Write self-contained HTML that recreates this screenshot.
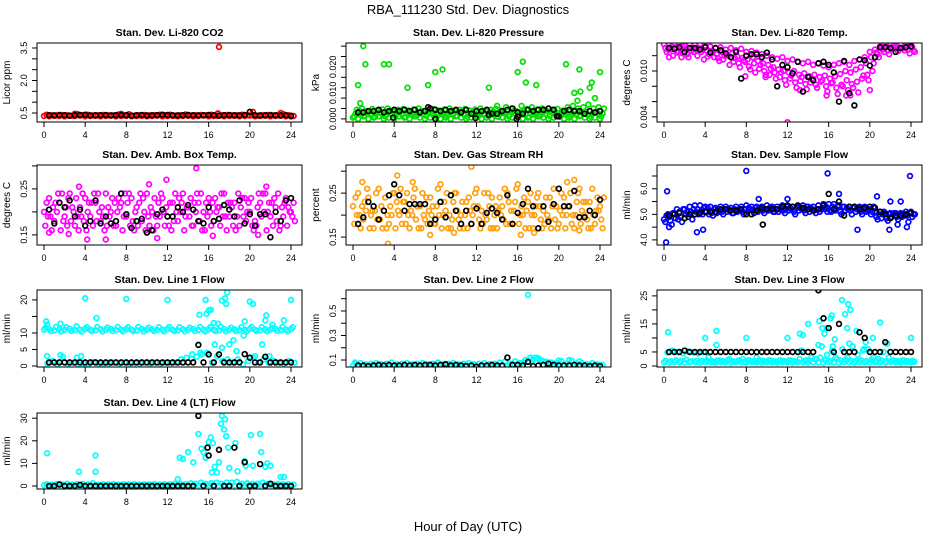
<!DOCTYPE html>
<html><head><meta charset="utf-8"><style>
html,body{margin:0;padding:0;background:#fff;}
svg{display:block;font-family:"Liberation Sans",sans-serif;}
</style></head><body>
<svg id="chart" width="936" height="540" viewBox="0 0 936 540" xmlns="http://www.w3.org/2000/svg">
<text x="468" y="14" text-anchor="middle" font-size="13">RBA_111230  Std. Dev. Diagnostics</text>
<text x="468" y="531" text-anchor="middle" font-size="13">Hour of Day (UTC)</text>
<g id="panels"></g>
</svg>
<script>
// ---------- data (hourly x: layers at 0,0.5,...,24 ; black at 0.5,...,24) ----------
const xTicks = [0,4,8,12,16,20,24];
const xTickLabels = ["0","4","8","12","16","20","24"];

const co2A = [0.42,0.40,0.39,0.41,0.40,0.38,0.45,0.40,0.42,0.39,0.40,0.41,0.39,0.40,0.43,0.40,0.44,0.38,0.40,0.41,0.39,0.40,0.42,0.40,0.42,0.38,0.40,0.43,0.39,0.40,0.41,0.40,0.42,0.38,0.40,0.41,0.39,0.40,0.42,0.40,0.41,0.38,0.40,0.41,0.39,0.40,0.45,0.40,0.36];
const co2B = [0.36,0.35,0.37,0.36,0.35,0.37,0.36,0.38,0.35,0.36,0.37,0.35,0.36,0.38,0.35,0.36,0.37,0.35,0.36,0.37,0.35,0.36,0.38,0.35,0.36,0.37,0.35,0.36,0.37,0.35,0.36,0.38,0.35,0.36,0.37,0.35,0.36,0.37,0.35,0.36,0.38,0.35,0.36,0.37,0.35,0.36,0.37,0.35,0.34];
const co2Black = [0.40,0.39,0.41,0.40,0.38,0.40,0.41,0.42,0.39,0.40,0.40,0.41,0.39,0.40,0.41,0.40,0.38,0.40,0.41,0.39,0.40,0.40,0.42,0.41,0.40,0.39,0.40,0.41,0.40,0.39,0.40,0.41,0.40,0.38,0.40,0.41,0.40,0.39,0.41,0.55,0.40,0.39,0.40,0.41,0.40,0.39,0.40,0.37];
const co2OutX = [17,20.3,23,3,7.5,16.9];
const co2OutY = [3.55,0.55,0.5,0.47,0.46,0.48];

const presA = [0.0005,0,0.001,0,0.0005,0.001,0,0.0005,0,0.001,0.0005,0,0.001,0.0005,0,0.0005,0.001,0,0.0005,0,0.001,0.0005,0,0.0005,0.001,0,0.0005,0,0.001,0.0005,0,0.0005,0.001,0,0.0005,0,0.001,0.0005,0,0.0005,0.001,0,0.0005,0,0.001,0.0005,0,0.0005,0];
const presB = [0.002,0.0015,0.0025,0.002,0.0018,0.0022,0.0015,0.002,0.0025,0.0018,0.002,0.0022,0.0015,0.002,0.0025,0.0018,0.002,0.0022,0.0015,0.002,0.0025,0.0018,0.002,0.0022,0.0015,0.002,0.0025,0.0018,0.002,0.0022,0.0015,0.002,0.0025,0.0018,0.002,0.0022,0.0015,0.002,0.0025,0.0018,0.002,0.0022,0.0015,0.002,0.0025,0.0018,0.002,0.0022,0.002];
const presC = [0.0035,0.004,0.003,0.0038,0.0032,0.0036,0.004,0.003,0.0035,0.0038,0.0032,0.0036,0.004,0.003,0.0035,0.0038,0.0032,0.0036,0.004,0.003,0.0035,0.0038,0.0032,0.0036,0.004,0.003,0.0035,0.0038,0.0032,0.0045,0.004,0.003,0.005,0.0038,0.0045,0.0036,0.004,0.003,0.0035,0.0038,0.0032,0.0045,0.005,0.004,0.0045,0.0055,0.004,0.0045,0.004];
const presD = [0.001,0.003,0.0012,0.0028,0.0008,0.0025,0.001,0.003,0.0012,0.0028,0.0008,0.0025,0.001,0.003,0.0012,0.0028,0.0008,0.0025,0.001,0.003,0.0012,0.0028,0.0008,0.0025,0.001,0.003,0.0012,0.0028,0.0008,0.0025,0.001,0.003,0.0012,0.0028,0.0008,0.0025,0.001,0.003,0.0012,0.0028,0.0008,0.0025,0.001,0.003,0.0012,0.0028,0.0008,0.0025,0.001];
const presBlack = [0.0025,0.0025,0.003,0.003,0.0035,0.0025,0.003,0.0035,0.003,0.0035,0.003,0.0035,0.0025,0.003,0.004,0.0035,0.003,0.0035,0.003,0.0035,0.0025,0.0035,0.002,0.003,0.003,0.0035,0.002,0.002,0.003,0.0035,0.004,0.0025,0.002,0.0035,0.003,0.0035,0.0035,0.004,0.0035,0.001,0.003,0.0035,0.003,0.003,0.002,0.003,0.0025,0.003];
const presOutX = [1.0,1.2,3.0,3.5,0.5,5.3,7.3,8.0,8.7,13.2,16.0,16.5,16.8,17.8,20.7,21.5,22.0,22.1,23.0,23.2,24.0,23.5,21.8,0.7,14.0];
const presOutY = [0.028,0.021,0.021,0.021,0.013,0.012,0.013,0.018,0.019,0.012,0.018,0.022,0.014,0.013,0.021,0.010,0.019,0.0105,0.012,0.014,0.018,0.008,0.007,0.006,0.005];
const presBOutX = [3.9,7.3,8.0,11.9,15.9,16.0,13.2,19.8];
const presBOutY = [0.0005,0.0045,0,0.0003,0,0.0008,0.0015,0.001];

const tempA = [0.0135,0.0134,0.0136,0.0135,0.0133,0.0136,0.0134,0.0135,0.0133,0.0132,0.0130,0.0131,0.0128,0.0130,0.0127,0.0129,0.0125,0.0126,0.0124,0.0122,0.0120,0.0118,0.0116,0.0118,0.0113,0.0115,0.0112,0.0110,0.0112,0.0108,0.0110,0.0107,0.0105,0.0108,0.0110,0.0112,0.0108,0.0113,0.0115,0.0118,0.0125,0.0128,0.0132,0.0135,0.0134,0.0136,0.0135,0.0134,0.0135];
const tempB = [0.0130,0.0128,0.0131,0.0127,0.0129,0.0126,0.0128,0.0125,0.0127,0.0124,0.0122,0.0125,0.0121,0.0123,0.0119,0.0117,0.0115,0.0118,0.0113,0.0110,0.0108,0.0105,0.0102,0.0100,0.0098,0.0100,0.0095,0.0097,0.0093,0.0095,0.0092,0.0094,0.0090,0.0093,0.0096,0.0100,0.0098,0.0102,0.0105,0.0110,0.0118,0.0124,0.0130,0.0132,0.0131,0.0133,0.0130,0.0132,0.0131];
const tempC = [0.0125,0.0132,0.0124,0.0133,0.0122,0.0130,0.0120,0.0128,0.0119,0.0126,0.0117,0.0115,0.0120,0.0112,0.0110,0.0114,0.0106,0.0110,0.0103,0.0100,0.0095,0.0098,0.0092,0.0088,0.0090,0.0085,0.0087,0.0083,0.0085,0.0082,0.0086,0.0080,0.0084,0.0078,0.0082,0.0088,0.0083,0.0086,0.0090,0.0095,0.0100,0.0122,0.0128,0.0127,0.0129,0.0126,0.0130,0.0128,0.0127];
const tempD = [0.0128,0.0120,0.0126,0.0123,0.0118,0.0125,0.0130,0.0115,0.0122,0.0118,0.0113,0.0120,0.0108,0.0117,0.0105,0.0112,0.0102,0.0098,0.0108,0.0092,0.0103,0.0090,0.0098,0.0082,0.0094,0.0078,0.0092,0.0076,0.0090,0.0078,0.0088,0.0073,0.0085,0.0070,0.0080,0.0075,0.0078,0.0072,0.0094,0.0088,0.0110,0.0118,0.0125,0.0122,0.0133,0.0130,0.0127,0.0123,0.0125];
const tempBlack = [0.0130,0.0129,0.0131,0.0125,0.0130,0.0130,0.0128,0.0131,0.0124,0.0130,0.0127,0.0123,0.0118,0.0125,0.0090,0.0120,0.0122,0.0122,0.0118,0.0124,0.0115,0.0080,0.0108,0.0105,0.0097,0.0112,0.0073,0.0092,0.0088,0.0110,0.0112,0.0108,0.0098,0.0060,0.0113,0.0071,0.0055,0.0115,0.0114,0.0107,0.0118,0.0131,0.0131,0.0130,0.0125,0.0130,0.0131,0.0132];
const tempOutX = [12,15.8,17.7,0.5,1.7,7.9,13.2,18.1,20,9.9];
const tempOutY = [0.0033,0.0068,0.0068,0.0118,0.0118,0.0093,0.0075,0.0068,0.0075,0.0095];

const ambA = [0.20,0.23,0.18,0.22,0.19,0.24,0.17,0.21,0.23,0.19,0.22,0.18,0.24,0.20,0.17,0.22,0.19,0.23,0.21,0.18,0.24,0.20,0.17,0.23,0.19,0.22,0.18,0.24,0.21,0.17,0.22,0.20,0.23,0.18,0.21,0.24,0.19,0.22,0.17,0.23,0.20,0.18,0.22,0.24,0.19,0.21,0.17,0.23,0.20];
const ambB = [0.17,0.19,0.22,0.16,0.21,0.18,0.23,0.19,0.16,0.22,0.18,0.21,0.17,0.23,0.20,0.16,0.22,0.18,0.17,0.23,0.19,0.16,0.22,0.20,0.17,0.18,0.23,0.16,0.19,0.22,0.18,0.16,0.20,0.23,0.17,0.19,0.22,0.16,0.21,0.18,0.23,0.17,0.19,0.16,0.22,0.18,0.21,0.17,0.19];
const ambC = [0.22,0.16,0.20,0.24,0.17,0.21,0.19,0.24,0.20,0.17,0.24,0.19,0.21,0.17,0.23,0.19,0.24,0.16,0.22,0.20,0.17,0.23,0.19,0.17,0.22,0.24,0.20,0.19,0.23,0.20,0.24,0.22,0.17,0.20,0.24,0.16,0.21,0.19,0.23,0.20,0.17,0.21,0.24,0.20,0.17,0.24,0.19,0.21,0.22];
const ambD = [0.19,0.21,0.24,0.18,0.23,0.20,0.16,0.18,0.22,0.24,0.20,0.16,0.19,0.22,0.21,0.24,0.17,0.20,0.24,0.16,0.21,0.19,0.24,0.21,0.16,0.20,0.22,0.21,0.17,0.24,0.16,0.19,0.22,0.21,0.19,0.22,0.17,0.24,0.19,0.22,0.16,0.24,0.20,0.22,0.23,0.16,0.22,0.20,0.18];
const ambBlack = [0.205,0.175,0.22,0.21,0.225,0.19,0.205,0.17,0.18,0.225,0.175,0.19,0.175,0.18,0.24,0.195,0.165,0.18,0.185,0.155,0.16,0.195,0.205,0.19,0.19,0.21,0.20,0.215,0.205,0.18,0.175,0.21,0.18,0.185,0.215,0.205,0.19,0.225,0.175,0.195,0.17,0.195,0.195,0.145,0.20,0.18,0.225,0.23];
const ambOutX = [14.8,4.2,6,11.9,10.2,0.5,2.4,3.4,21.6,11,20.8,16.4];
const ambOutY = [0.295,0.14,0.14,0.27,0.26,0.155,0.152,0.255,0.255,0.143,0.15,0.148];

const rhA = [0.22,0.25,0.19,0.24,0.17,0.26,0.21,0.18,0.25,0.20,0.23,0.17,0.26,0.22,0.19,0.24,0.18,0.27,0.21,0.17,0.25,0.20,0.23,0.18,0.26,0.21,0.19,0.24,0.17,0.22,0.25,0.18,0.27,0.20,0.23,0.17,0.25,0.21,0.19,0.26,0.18,0.24,0.22,0.17,0.26,0.20,0.23,0.18,0.22];
const rhB = [0.18,0.20,0.23,0.17,0.21,0.19,0.24,0.22,0.17,0.26,0.18,0.21,0.19,0.17,0.24,0.20,0.22,0.17,0.25,0.19,0.21,0.23,0.17,0.20,0.22,0.18,0.25,0.17,0.21,0.19,0.23,0.21,0.18,0.24,0.17,0.20,0.22,0.18,0.24,0.19,0.21,0.17,0.25,0.20,0.18,0.23,0.17,0.21,0.19];
const rhC = [0.24,0.17,0.21,0.20,0.25,0.22,0.17,0.20,0.23,0.18,0.25,0.20,0.22,0.25,0.18,0.22,0.26,0.20,0.17,0.23,0.19,0.17,0.24,0.22,0.19,0.25,0.22,0.20,0.24,0.26,0.18,0.23,0.20,0.17,0.25,0.22,0.19,0.24,0.17,0.22,0.25,0.20,0.18,0.23,0.21,0.19,0.26,0.24,0.17];
const rhD = [0.20,0.22,0.26,0.21,0.19,0.17,0.20,0.25,0.21,0.23,0.20,0.24,0.17,0.20,0.21,0.18,0.20,0.23,0.20,0.25,0.17,0.20,0.21,0.25,0.17,0.20,0.17,0.22,0.20,0.18,0.21,0.26,0.22,0.21,0.20,0.24,0.17,0.20,0.22,0.17,0.20,0.22,0.20,0.25,0.23,0.17,0.20,0.21,0.24];
const rhBlack = [0.18,0.195,0.23,0.22,0.19,0.21,0.245,0.27,0.245,0.21,0.225,0.225,0.225,0.225,0.18,0.19,0.23,0.195,0.245,0.21,0.18,0.21,0.18,0.215,0.18,0.205,0.215,0.205,0.19,0.245,0.18,0.205,0.225,0.26,0.22,0.17,0.22,0.185,0.225,0.26,0.22,0.22,0.255,0.195,0.195,0.21,0.20,0.235];
const rhOutX = [4.3,11.5,3.4,7.5,9.8,16.3,17.6,22,0.9,5.8,20.8,21.5];
const rhOutY = [0.29,0.31,0.135,0.155,0.16,0.155,0.16,0.165,0.275,0.275,0.275,0.28];

const flowA = [4.8,4.9,5.0,5.1,5.2,5.3,5.35,5.35,5.3,5.3,5.25,5.3,5.3,5.25,5.3,5.3,5.35,5.3,5.3,5.3,5.35,5.3,5.3,5.35,5.3,5.3,5.3,5.35,5.3,5.3,5.35,5.4,5.4,5.4,5.35,5.3,5.3,5.3,5.3,5.3,5.2,5.1,5.1,5.05,5.05,5.05,5.05,5.1,5.1];
const flowB = [4.7,4.75,4.85,4.9,5.0,5.1,5.1,5.1,5.1,5.05,5.05,5.1,5.1,5.05,5.1,5.1,5.1,5.15,5.1,5.15,5.15,5.1,5.1,5.15,5.15,5.1,5.15,5.15,5.1,5.15,5.1,5.2,5.15,5.15,5.1,5.15,5.15,5.1,5.1,5.1,5.0,4.9,4.85,4.85,4.9,4.9,4.9,4.95,4.9];
const flowC = [4.95,4.6,5.2,4.7,5.1,4.8,5.2,5.0,5.25,4.95,5.2,5.0,5.2,5.05,5.15,5.0,5.25,5.05,5.2,5.05,5.25,5.1,5.2,5.05,5.25,5.0,5.25,5.05,5.25,5.05,5.2,5.3,5.1,5.2,5.0,5.25,5.0,5.2,5.0,5.15,5.1,4.8,5.0,4.75,5.0,4.8,5.0,4.7,5.0];
const flowD = [5.0,5.05,4.8,5.2,4.9,5.2,5.0,5.25,5.0,5.2,5.1,5.2,5.15,5.2,5.2,5.2,5.2,5.25,5.2,5.2,5.25,5.2,5.25,5.2,5.2,5.25,5.2,5.3,5.2,5.2,5.25,5.1,5.3,5.3,5.3,5.2,5.25,5.25,5.2,5.2,5.3,5.0,5.1,5.0,5.05,5.0,4.95,5.05,5.0];
const flowBlack = [4.95,5.0,5.05,4.85,5.0,5.0,5.05,5.1,5.1,5.1,5.2,5.2,5.15,5.15,5.2,5.0,5.0,5.15,5.25,5.2,5.2,5.2,5.3,5.35,5.3,5.35,5.25,5.2,5.15,5.2,5.35,5.8,5.2,5.5,4.95,5.3,5.3,5.2,5.25,5.3,5.25,5.1,5.0,4.85,4.95,4.95,5.0,5.05];
const flowOutX = [0.2,0.3,8,15.9,23.9,3.2,3.8,0.5,17,12,9.2,20.7,22,23,18.8,21.9,23.6,22.7];
const flowOutY = [3.9,5.9,6.7,6.6,6.5,4.3,4.4,4.5,5.8,5.6,5.6,5.7,5.5,5.5,4.4,4.4,4.5,4.6];
const flowBOutX = [9.6];
const flowBOutY = [4.6];

const l1A = [11,11.2,10.8,11.1,11,11.3,10.9,11,11.2,11,10.8,11.1,11,11.2,10.9,11,11.1,11,10.8,11.2,11,11.1,10.9,11,11.2,11,10.8,11.1,11,11.2,10.9,11,11.1,11,10.8,11.2,11,11.1,10.9,11,11.2,11,10.8,11.1,11,11.2,10.9,11,11.1];
const l1B = [11.6,10.6,11.8,10.5,11.7,10.6,12,10.4,11.7,10.6,11.8,10.5,11.6,10.6,11.8,10.5,11.7,10.6,11.8,10.5,11.6,10.6,11.7,10.5,11.8,10.6,11.7,10.5,11.6,10.6,11.8,10.5,11.7,10.6,11.8,10.5,11.6,10.6,11.7,10.5,11.8,10.6,11.7,10.5,11.6,10.6,11.8,10.5,11.7];
const l1C = [0.8,1.5,0.5,2.8,0.6,1.0,0.5,0.8,0.6,1.2,0.7,0.8,0.8,1.0,0.8,1.0,0.8,0.9,0.8,1.0,0.8,1.0,0.8,1.0,0.9,1.0,2.0,2.5,2.2,2.8,3.5,4.0,1.0,3.0,1.5,2.0,1.0,2.0,0.5,1.5,2.5,1.0,2.0,1.0,1.5,1.0,0.8,1.5,1.0];
const l1Black = [1.1,1.1,1.1,1.1,1.1,1.1,1.1,1.1,1.1,1.1,1.1,1.1,1.1,1.1,1.1,1.1,1.1,1.1,1.1,1.1,1.1,1.1,1.1,1.1,1.1,1.1,1.1,1.1,1.1,6.4,1.1,3.5,1.1,3.5,1.1,1.1,1.1,1.1,3.6,2.5,1.1,1.1,2.8,1.1,1.1,1.1,1.1,1.1];
const l1OutX = [4,8,12,0.2,0.3,1.6,5.1,15.1,15.7,15.8,16,16.2,16.5,16.9,17.3,17.6,17.8,17.7,18.4,19.5,20,20.3,21.2,21.6,22.2,23.3,24,18,21.5,19.4,16.6,0.3,1.6,3.2,3.6,14.4,15.2,17.3,18.7,20.5,21.9];
const l1OutY = [20.5,20.3,20,13.5,12.5,12.8,14.5,15.5,20,15.8,16.8,17,13,12.8,19.8,20.5,22.3,18.8,7.8,13.5,19.5,18.8,6.5,15.3,12.5,13.8,20,6.5,13.8,9.2,6.5,3,3.3,2.5,3,3.5,4,5.5,4.5,3,3];

const l2A = [0.055,0.06,0.05,0.055,0.06,0.05,0.055,0.06,0.05,0.055,0.06,0.05,0.055,0.06,0.05,0.055,0.06,0.05,0.055,0.06,0.05,0.055,0.06,0.05,0.055,0.06,0.05,0.055,0.06,0.05,0.06,0.065,0.07,0.08,0.09,0.1,0.11,0.09,0.08,0.07,0.065,0.06,0.055,0.06,0.05,0.055,0.06,0.05,0.055];
const l2B = [0.07,0.075,0.065,0.07,0.075,0.065,0.07,0.08,0.065,0.07,0.075,0.065,0.07,0.075,0.065,0.07,0.08,0.065,0.07,0.075,0.065,0.07,0.075,0.065,0.07,0.075,0.065,0.07,0.08,0.085,0.07,0.09,0.075,0.1,0.12,0.12,0.1,0.085,0.08,0.075,0.09,0.07,0.095,0.07,0.075,0.065,0.075,0.065,0.06];
const l2Black = [0.055,0.055,0.05,0.055,0.06,0.055,0.06,0.055,0.055,0.06,0.055,0.06,0.055,0.06,0.06,0.055,0.06,0.065,0.055,0.06,0.055,0.05,0.055,0.045,0.055,0.055,0.06,0.055,0.055,0.12,0.06,0.06,0.055,0.085,0.05,0.055,0.06,0.07,0.06,0.055,0.055,0.055,0.06,0.055,0.055,0.05,0.055,0.05];
const l2OutX = [17,17.5,18,21,20,22,0.2];
const l2OutY = [0.63,0.11,0.115,0.1,0.095,0.09,0.08];

const l3A = [1.3,1.2,1.4,1.3,1.2,1.4,1.3,1.2,1.4,1.3,1.2,1.4,1.3,1.2,1.4,1.3,1.2,1.4,1.3,1.2,1.4,1.3,1.2,1.4,1.3,1.2,1.4,1.3,1.2,1.4,1.3,1.2,1.4,1.3,1.2,1.4,1.3,1.2,1.4,1.3,1.2,1.4,1.3,1.2,1.4,1.3,1.2,1.4,1.3];
const l3B = [1.9,1.7,2.0,1.8,2.2,1.7,1.9,1.8,2.0,1.7,1.9,1.8,2.0,1.7,1.9,2.5,2.0,1.7,1.9,1.8,2.0,1.7,1.9,1.8,2.0,1.7,2.5,1.8,2.0,2.5,3.0,2.0,1.9,3.0,2.0,2.2,1.9,1.8,2.0,1.7,2.2,1.8,2.0,1.7,1.9,1.8,2.0,1.7,1.9];
const l3C = [4.8,5.5,5.0,4.5,5.2,4.8,4.5,5.0,3.0,1.5,2.0,1.5,2.5,1.5,2.0,1.5,2.0,1.5,2.0,1.5,2.0,1.5,2.0,1.5,2.0,1.5,5.5,2.0,3.0,2.5,7.0,4.0,5.5,2.5,6.0,3.0,7.0,4.0,5.5,6.0,3.0,2.5,5.0,3.0,2.0,1.5,2.0,1.5,1.5];
const l3Black = [5,5,5,5.5,5,5,5,5,5,5,5,5,5,5,5,5,5,5,5,5,5,5,5,5,5,5,5,5,5,27,17,13.5,5,15,5,5,5,12,10,5,5,5,8.5,5,5,5,5,5];
const l3OutX = [0.4,4,5.1,5.1,8,12,13.2,13.5,14,15.1,15.4,15.6,15.8,16.2,16.3,17.3,17.6,17.9,18.1,18.7,19.6,20.3,21,21.7,24,15,16.6,17.8,9,16.4,18,19.4];
const l3OutY = [12,10,12.5,7.5,10,10,11.5,11,15,16,13.5,11.5,13.5,17,18,23.5,18.5,22,20,12.5,8.5,10,15.5,8,10,7.5,9.5,13.5,3,7,8,6];

const l4A = [0.3,0.2,0.4,0.3,0.2,0.4,0.3,0.2,0.4,0.3,0.2,0.4,0.3,0.2,0.4,0.3,0.2,0.4,0.3,0.2,0.4,0.3,0.2,0.4,0.3,0.2,0.4,0.3,0.2,0.4,0.3,0.2,0.4,0.3,0.2,0.4,0.3,0.2,0.4,0.3,0.2,0.4,0.3,0.2,0.4,0.3,0.2,0.4,0.3];
const l4B = [0.8,0.6,0.9,0.7,1.0,0.6,0.8,0.9,0.7,1.2,0.6,0.8,0.7,0.9,0.6,0.8,0.7,0.9,0.6,0.8,0.7,0.9,0.6,0.8,0.7,1.0,0.9,0.8,1.2,1.0,1.5,0.9,1.2,1.5,1.0,1.5,1.5,1.8,1.0,1.2,0.9,1.0,1.5,1.0,0.8,0.9,0.7,0.8,0.6];
const l4Black = [0,0,0.7,0,0,0,0.5,0,0,0,0,0,0,0,0,0,0,0,0,0,0,0,0,0,0,0,0,0,0,31,0,13.5,0,16,0,0,17,0,10.5,0,0,9.7,0,1,0,0,0,0];
const l4OutX = [0.3,3.4,5,5,13,13.2,13.5,14,14.5,15,15.3,15.5,15.7,16,16.2,16.4,16.6,16.8,17,17.2,17.3,17.5,17.6,17.7,17.9,18,18.6,18.8,19.5,19.6,20.1,20.3,21,21.1,21.5,21.7,22,23,23.3,16.3];
const l4OutY = [14.5,6.3,13.5,6.3,3,12.5,12,15,10.5,23,16.5,15,12.5,19.5,21.5,19,8.5,6,10.5,27.5,31,25,29.5,22,17,8,19,6.5,11,9,22.5,9,23,15,8.5,10,9,4,4,6];
const l4BOutX = [15.9];
const l4BOutY = [17];

// ---------- panel definitions ----------
const colLeft = [37,346,657];
const rowTop = [43,165,290,413];
const rowH = [79,80,77,76];
const boxW = 265;

const panels = [
 {key:"co2",col:0,row:0,title:"Stan. Dev. Li-820 CO2",ylab:"Licor ppm",ymin:0.085,ymax:3.73,ticks:[0.5,1,1.5,2,2.5,3,3.5],labels:[[0.5,"0.5"],[2,"2.0"],[3.5,"3.5"]],color:"#ff0000",layers:[co2B,co2A],black:co2Black,ox:co2OutX,oy:co2OutY,bx:[],by:[]},
 {key:"pressure",col:1,row:0,title:"Stan. Dev. Li-820 Pressure",ylab:"kPa",ymin:-0.0012,ymax:0.0292,ticks:[0,0.004,0.008,0.012,0.016,0.020,0.024,0.028],labels:[[0,"0.000"],[0.010,"0.010"],[0.020,"0.020"]],color:"#00e000",layers:[presA,presD,presB,presC],black:presBlack,ox:presOutX,oy:presOutY,bx:presBOutX,by:presBOutY},
 {key:"temp",col:2,row:0,title:"Stan. Dev. Li-820 Temp.",ylab:"degrees C",ymin:0.00333,ymax:0.01366,ticks:[0.004,0.006,0.008,0.010,0.012],labels:[[0.004,"0.004"],[0.010,"0.010"]],color:"#ff00ff",layers:[tempA,tempB,tempC,tempD],black:tempBlack,ox:tempOutX,oy:tempOutY,bx:[],by:[]},
 {key:"ambbox",col:0,row:1,title:"Stan. Dev. Amb. Box Temp.",ylab:"degrees C",ymin:0.128,ymax:0.302,ticks:[0.15,0.2,0.25,0.3],labels:[[0.15,"0.15"],[0.25,"0.25"]],color:"#ff00ff",layers:[ambA,ambB,ambC,ambD],black:ambBlack,ox:ambOutX,oy:ambOutY,bx:[],by:[]},
 {key:"rh",col:1,row:1,title:"Stan. Dev. Gas Stream RH",ylab:"percent",ymin:0.132,ymax:0.314,ticks:[0.15,0.2,0.25,0.3],labels:[[0.15,"0.15"],[0.25,"0.25"]],color:"#ffa010",layers:[rhA,rhB,rhC,rhD],black:rhBlack,ox:rhOutX,oy:rhOutY,bx:[],by:[]},
 {key:"sampleflow",col:2,row:1,title:"Stan. Dev. Sample Flow",ylab:"ml/min",ymin:3.8,ymax:6.93,ticks:[4,4.5,5,5.5,6,6.5],labels:[[4,"4.0"],[5,"5.0"],[6,"6.0"]],color:"#0000ff",layers:[flowA,flowB,flowC,flowD],black:flowBlack,ox:flowOutX,oy:flowOutY,bx:flowBOutX,by:flowBOutY},
 {key:"line1",col:0,row:2,title:"Stan. Dev. Line 1 Flow",ylab:"ml/min",ymin:-0.3,ymax:23,ticks:[0,5,10,15,20],labels:[[0,"0"],[5,"5"],[10,"10"],[20,"20"]],color:"#00ffff",layers:[l1A,l1B,l1C],black:l1Black,ox:l1OutX,oy:l1OutY,bx:[],by:[]},
 {key:"line2",col:1,row:2,title:"Stan. Dev. Line 2 Flow",ylab:"ml/min",ymin:0.043,ymax:0.671,ticks:[0.1,0.2,0.3,0.4,0.5,0.6],labels:[[0.1,"0.1"],[0.3,"0.3"],[0.5,"0.5"]],color:"#00ffff",layers:[l2A,l2B],black:l2Black,ox:l2OutX,oy:l2OutY,bx:[],by:[]},
 {key:"line3",col:2,row:2,title:"Stan. Dev. Line 3 Flow",ylab:"ml/min",ymin:-0.36,ymax:27.1,ticks:[0,5,10,15,20,25],labels:[[0,"0"],[5,"5"],[15,"15"],[25,"25"]],color:"#00ffff",layers:[l3A,l3B,l3C],black:l3Black,ox:l3OutX,oy:l3OutY,bx:[],by:[]},
 {key:"line4",col:0,row:3,title:"Stan. Dev. Line 4 (LT) Flow",ylab:"ml/min",ymin:-1.33,ymax:32.3,ticks:[0,10,20,30],labels:[[0,"0"],[10,"10"],[20,"20"],[30,"30"]],color:"#00ffff",layers:[l4A,l4B],black:l4Black,ox:l4OutX,oy:l4OutY,bx:l4BOutX,by:l4BOutY}
];

const NS = "http://www.w3.org/2000/svg";
const root = document.getElementById("panels");
function mk(tag, attrs, parent){
  const e = document.createElementNS(NS, tag);
  for (const k in attrs) e.setAttribute(k, attrs[k]);
  parent.appendChild(e);
  return e;
}
function dot(g, cx, cy, color){
  const c = mk("circle", {cx:cx.toFixed(1), cy:cy.toFixed(1), r:2.4, fill:"none", stroke:color, "stroke-width":1.7}, g);
  
  
  return c;
}

panels.forEach(p => {
  const L = colLeft[p.col], T = rowTop[p.row], H = rowH[p.row], B = T + H;
  const xs = h => L + 7 + h * (247/24);
  const ys = v => B - (v - p.ymin) / (p.ymax - p.ymin) * H;
  const g = mk("g", {}, root);
  
  

  const t = mk("text", {x: L + boxW/2, y: T - 7, "text-anchor":"middle", "font-size":10.5, "font-weight":"bold"}, g);
  t.textContent = p.title;
  
  

  const cid = "clip-" + p.key;
  const cp = mk("clipPath", {id: cid}, g);
  mk("rect", {x:L, y:T, width:boxW, height:H}, cp);
  const pts = mk("g", {"clip-path":"url(#" + cid + ")"}, g);
  
  

  const n = p.layers.length;
  p.layers.forEach((arr, k) => {
    arr.forEach((v, i) => { dot(pts, xs(i*0.5 + k*0.5/n), ys(v), p.color); });
  });
  p.ox.forEach((h, i) => dot(pts, xs(h), ys(p.oy[i]), p.color));
  p.black.forEach((v, i) => dot(pts, xs(0.5 + i*0.5), ys(v), "#000"));
  p.bx.forEach((h, i) => dot(pts, xs(h), ys(p.by[i]), "#000"));

  const box = mk("rect", {x:L, y:T, width:boxW, height:H, fill:"none", stroke:"#000", "stroke-width":1}, g);
  
  

  const xa = mk("g", {stroke:"#000", "stroke-width":1}, g);
  
  
  mk("line", {x1:xs(0), y1:B, x2:xs(24), y2:B}, xa);
  xTicks.forEach((h, i) => {
    mk("line", {x1:xs(h), y1:B, x2:xs(h), y2:B+5}, xa);
    const tl = mk("text", {x:xs(h), y:B+16, "text-anchor":"middle", "font-size":9, stroke:"none"}, xa);
    tl.textContent = xTickLabels[i];
    
    
  });

  const ya = mk("g", {stroke:"#000", "stroke-width":1}, g);
  
  
  const t0 = p.ticks[0], t1 = p.ticks[p.ticks.length-1];
  mk("line", {x1:L, y1:ys(t0), x2:L, y2:ys(t1)}, ya);
  p.ticks.forEach(v => { mk("line", {x1:L-5, y1:ys(v), x2:L, y2:ys(v)}, ya); });
  p.labels.forEach(lb => {
    const yy = ys(lb[0]);
    const tl = mk("text", {x:L-10, y:yy, "text-anchor":"middle", "font-size":9, stroke:"none", transform:"rotate(-90 " + (L-10) + " " + yy + ")"}, ya);
    tl.textContent = lb[1];
    
    
  });
  const cy = T + H/2;
  const yl = mk("text", {x:L-27, y:cy, "text-anchor":"middle", "font-size":10, transform:"rotate(-90 " + (L-27) + " " + cy + ")"}, g);
  yl.textContent = p.ylab;
  
  
});
</script>
</body></html>
